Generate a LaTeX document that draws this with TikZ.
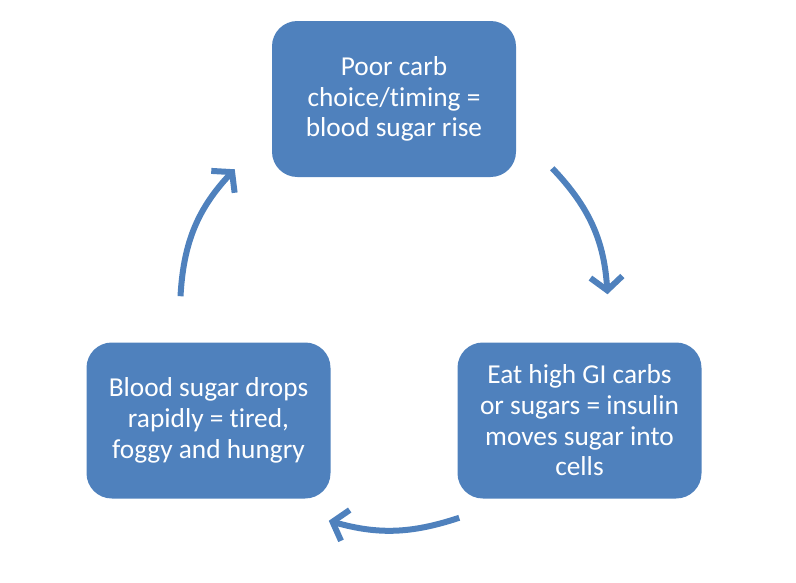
\documentclass[tikz,border=0pt]{standalone}
\usepackage{fontspec}
\setmainfont[RawFeature=-liga]{Carlito}
\usetikzlibrary{arrows.meta}
\definecolor{cycblue}{HTML}{4F81BD}
\tikzset{
  stage/.style={fill=cycblue, text=white, rounded corners=19pt,
    minimum width=183pt, minimum height=117pt, align=center,
    font=\fontsize{20.5}{23}\selectfont},
  cyc/.style={draw=cycblue, line width=4.5pt,
    -{Straight Barb[length=10pt, width=24pt, line width=4.5pt]}}
}
\begin{document}
\begin{tikzpicture}[x=0.75pt, y=-0.75pt]
\useasboundingbox (0,0) rectangle (796,582);
% the three stages
\node[stage] (rise) at (394,99) {Poor carb\\choice/timing =\\blood sugar rise};
\node[stage] (insulin) at (579.5,420.5) {Eat high GI carbs\\or sugars = insulin\\moves sugar into\\cells};
\node[stage] (drop) at (208.5,420.5) {Blood sugar drops\\rapidly = tired,\\foggy and hungry};
% arrows round the cycle
\draw[cyc] ([shift={(36,-9)}]rise.south east) to[bend left=20] ([shift={(28,-48)}]insulin.north);
\draw[cyc] ([shift={(2,19)}]insulin.south west) to[bend left=17] ([shift={(-2,22)}]drop.south east);
\draw[cyc] ([shift={(-28,-46)}]drop.north) to[bend left=20] ([shift={(-37,-8)}]rise.south west);
\end{tikzpicture}
\end{document}
